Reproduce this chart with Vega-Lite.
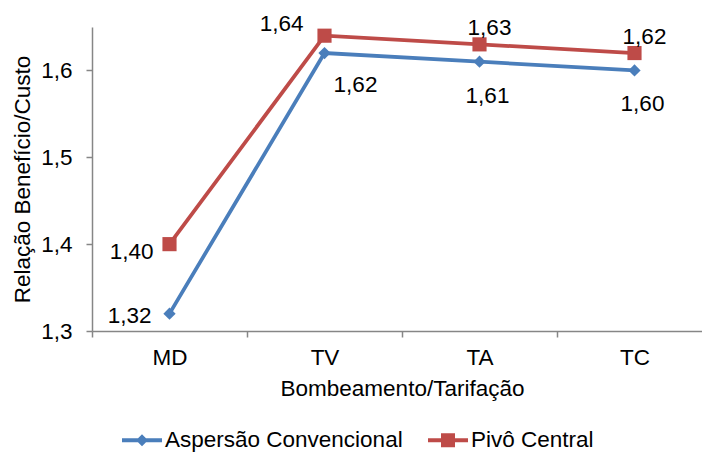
{
  "$schema": "https://vega.github.io/schema/vega-lite/v6.json",
  "width": 620,
  "height": 304,
  "autosize": {"type": "none"},
  "padding": {"left": 92, "top": 27, "right": -10, "bottom": 121},
  "background": "white",
  "config": {
    "locale": {"number": {"decimal": ",", "thousands": ".", "grouping": [3], "currency": ["R$", ""]}},
    "view": {"stroke": null},
    "font": "Liberation Sans",
    "axis": {
      "domainColor": "#868686",
      "domainWidth": 1.5,
      "tickColor": "#868686",
      "tickWidth": 1.5,
      "tickSize": 6,
      "grid": false,
      "labelFont": "Liberation Sans",
      "labelFontSize": 22.5,
      "labelColor": "#000000",
      "titleFont": "Liberation Sans",
      "titleFontSize": 22.5,
      "titleFontWeight": "normal",
      "titleColor": "#000000"
    },
    "text": {"font": "Liberation Sans", "fontSize": 22.5, "color": "#000000"}
  },
  "data": {
    "values": [
      {"series": "Aspersão Convencional", "cat": "MD", "v": 1.32},
      {"series": "Aspersão Convencional", "cat": "TV", "v": 1.62},
      {"series": "Aspersão Convencional", "cat": "TA", "v": 1.61},
      {"series": "Aspersão Convencional", "cat": "TC", "v": 1.60},
      {"series": "Pivô Central", "cat": "MD", "v": 1.40},
      {"series": "Pivô Central", "cat": "TV", "v": 1.64},
      {"series": "Pivô Central", "cat": "TA", "v": 1.63},
      {"series": "Pivô Central", "cat": "TC", "v": 1.62}
    ]
  },
  "encoding": {
    "x": {
      "field": "cat",
      "type": "nominal",
      "sort": ["MD", "TV", "TA", "TC"],
      "scale": {"type": "band", "paddingInner": 0, "paddingOuter": 0},
      "axis": {
        "title": "Bombeamento/Tarifação",
        "labelAngle": 0,
        "tickBand": "extent",
        "labelPadding": 9,
        "titlePadding": 9
      }
    },
    "y": {
      "field": "v",
      "type": "quantitative",
      "scale": {"domain": [1.3, 1.65], "nice": false, "zero": false},
      "axis": {
        "title": "Relação Benefício/Custo",
        "values": [1.3, 1.4, 1.5, 1.6],
        "format": ".1f",
        "labelPadding": 14,
        "titlePadding": 6
      }
    }
  },
  "layer": [
    {
      "encoding": {
        "color": {
          "field": "series",
          "type": "nominal",
          "scale": {"domain": ["Aspersão Convencional", "Pivô Central"], "range": ["#4A7EBB", "#BE4B48"]},
          "legend": {
            "title": null,
            "orient": "none",
            "direction": "horizontal",
            "legendX": 30,
            "legendY": 393,
            "padding": 0,
            "symbolSize": 1600,
            "symbolStrokeWidth": 0,
            "labelFont": "Liberation Sans",
            "labelFontSize": 22.5,
            "labelColor": "#000000",
            "labelLimit": 0,
            "labelOffset": 3,
            "columnPadding": 25,
            "encode": {
              "symbols": {
                "update": {
                  "shape": {"signal": "datum.value === 'Pivô Central' ? 'M-1,-0.1H1V0.1H-1Z M-0.35,-0.35H0.35V0.35H-0.35Z' : 'M-1,-0.1H1V0.1H-1Z M0,-0.3L0.3,0L0,0.3L-0.3,0Z'"},
                  "size": {"value": 1600},
                  "fill": {"signal": "scale('color', datum.value)"},
                  "stroke": {"value": "transparent"},
                  "opacity": {"value": 1}
                }
              }
            }
          }
        }
      },
      "layer": [
        {"mark": {"type": "line", "strokeWidth": 3.75}},
        {
          "transform": [{"filter": "datum.series === 'Aspersão Convencional'"}],
          "mark": {"type": "point", "filled": true, "opacity": 1, "shape": "diamond", "size": 150}
        },
        {
          "transform": [{"filter": "datum.series === 'Pivô Central'"}],
          "mark": {"type": "point", "filled": true, "opacity": 1, "shape": "square", "size": 200}
        }
      ]
    },
    {
      "transform": [{"filter": "datum.cat === 'MD' && datum.series === 'Pivô Central'"}],
      "mark": {"type": "text", "align": "right", "baseline": "middle", "dx": -16, "dy": 8},
      "encoding": {"text": {"field": "v", "type": "quantitative", "format": ".2f"}}
    },
    {
      "transform": [{"filter": "datum.cat === 'MD' && datum.series === 'Aspersão Convencional'"}],
      "mark": {"type": "text", "align": "right", "baseline": "middle", "dx": -18, "dy": 2},
      "encoding": {"text": {"field": "v", "type": "quantitative", "format": ".2f"}}
    },
    {
      "transform": [{"filter": "datum.cat === 'TV' && datum.series === 'Pivô Central'"}],
      "mark": {"type": "text", "align": "right", "baseline": "middle", "dx": -21, "dy": -12},
      "encoding": {"text": {"field": "v", "type": "quantitative", "format": ".2f"}}
    },
    {
      "transform": [{"filter": "datum.cat === 'TV' && datum.series === 'Aspersão Convencional'"}],
      "mark": {"type": "text", "align": "center", "baseline": "middle", "dx": 31, "dy": 32},
      "encoding": {"text": {"field": "v", "type": "quantitative", "format": ".2f"}}
    },
    {
      "transform": [{"filter": "datum.cat !== 'MD' && datum.cat !== 'TV' && datum.series === 'Pivô Central'"}],
      "mark": {"type": "text", "align": "center", "baseline": "middle", "dx": 10, "dy": -16},
      "encoding": {"text": {"field": "v", "type": "quantitative", "format": ".2f"}}
    },
    {
      "transform": [{"filter": "datum.cat !== 'MD' && datum.cat !== 'TV' && datum.series === 'Aspersão Convencional'"}],
      "mark": {"type": "text", "align": "center", "baseline": "middle", "dx": 8, "dy": 34},
      "encoding": {"text": {"field": "v", "type": "quantitative", "format": ".2f"}}
    }
  ]
}
